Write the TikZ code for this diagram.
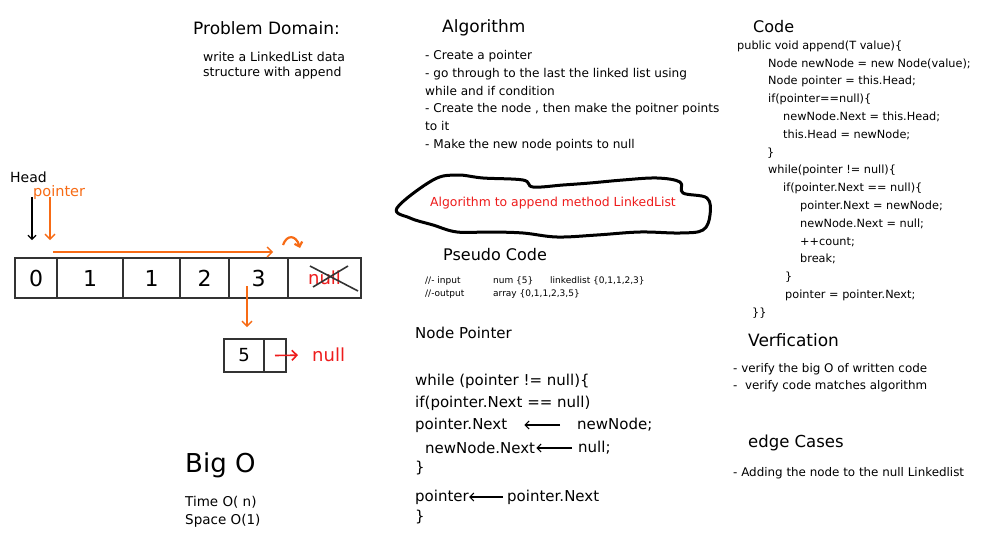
\documentclass[tikz,border=0pt]{standalone}
\usepackage{fontspec}
\setmainfont{DejaVu Sans}
\usetikzlibrary{positioning,arrows.meta}
\definecolor{pointerOrange}{HTML}{F76B15}
\definecolor{nullRed}{HTML}{EE1C1C}
\definecolor{boxGray}{HTML}{333333}

\begin{document}
\begin{tikzpicture}[x=1pt, y=-1pt,
    cell/.style={rectangle, draw=boxGray, line width=1.4pt, minimum height=40pt, inner sep=0pt, outer sep=0pt, font=\fontsize{22}{24}\selectfont},
    heading/.style={anchor=west, inner sep=0pt, font=\fontsize{17}{20}\selectfont},
    note/.style={anchor=north west, inner sep=0pt, align=left, font=\fontsize{11.3}{17.8}\selectfont},
    codeline/.style={anchor=west, inner sep=0pt, font=\fontsize{15}{18}\selectfont},
    codeArrow/.style={-{Straight Barb[length=4pt]}, line width=1.1pt},
    walkArrow/.style={-{Straight Barb[length=5pt]}, draw=pointerOrange, line width=1.4pt}
]
    \fill[white] (0,0) rectangle (1002,554);
    \useasboundingbox (0,0) rectangle (1002,554);

    % linked list
    \node[cell, minimum width=42pt] (c0) at (36,278) {0};
    \node[cell, minimum width=66pt, right=0pt of c0] (c1) {1};
    \node[cell, minimum width=57pt, right=0pt of c1] (c2) {1};
    \node[cell, minimum width=49pt, right=0pt of c2] (c3) {2};
    \node[cell, minimum width=59pt, right=0pt of c3] (c4) {3};
    \node[cell, minimum width=73pt, right=0pt of c4, text=nullRed, font=\fontsize{18}{20}\selectfont] (c5) {null};
    \draw[boxGray, line width=1.6pt] (310,266) -- (358,291);
    \draw[boxGray, line width=1.6pt] (313,287) -- (348,266);

    \node[anchor=west, inner sep=0pt, font=\fontsize{14}{16}\selectfont] (head) at (10,177) {Head};
    \node[anchor=west, inner sep=0pt, font=\fontsize{14.5}{16}\selectfont, text=pointerOrange] (pointer) at (33,192) {pointer};
    \coordinate (headTail) at (32,197);
    \coordinate (headTip) at (32,240);
    \coordinate (ptrTail) at (50,197);
    \coordinate (ptrTip) at (50,240);
    \coordinate (walkStart) at (53,252);
    \coordinate (walkEnd) at (273,252);
    \coordinate (dropStart) at (247,286);
    \coordinate (dropEnd) at (247,327);
    \draw[codeArrow] (headTail) -- (headTip);
    \draw[walkArrow] (ptrTail) -- (ptrTip);
    \draw[walkArrow] (walkStart) -- (walkEnd);
    \draw[walkArrow] (dropStart) -- (dropEnd);
    \draw[pointerOrange, line width=2.2pt, -{Straight Barb[length=4pt]}] (283,245) .. controls (287,234) and (296,235) .. (300,248);

    % new node
    \node[cell, minimum width=40pt, minimum height=33pt, font=\fontsize{18}{20}\selectfont] (n5) at (244,355.5) {5};
    \node[cell, minimum width=22pt, minimum height=33pt, right=0pt of n5] (nNext) {};
    \node[anchor=west, inner sep=0pt, font=\fontsize{18}{20}\selectfont, text=nullRed] (nullOut) at (312,355) {null};
    \draw[-{Straight Barb[length=5pt]}, draw=nullRed, line width=1.6pt, shorten >=14pt] (nNext.center) -- (nullOut.west);

    % problem domain
    \node[heading] (problem) at (193,28) {Problem Domain:};
    \node[note, font=\fontsize{12.5}{15}\selectfont] (problemText) at (203,52) {write a LinkedList data\\structure with append};

    % algorithm
    \node[heading] (algo) at (442,28) {Algorithm};
    \node[note, font=\fontsize{12.1}{17.8}\selectfont] (algoText) at (425,50.2) {- Create a pointer\\- go through to the last the linked list using\\while and if condition\\- Create the node , then make the poitner points\\to it\\- Make the new node points to null};

    % cloud
    \draw[line width=3pt, line join=round] plot[smooth cycle, tension=0.6] coordinates {(397,208) (433,180) (457,175) (483,178) (523,180) (533,187) (563,185) (590,183) (623,180) (657,178) (680,182) (683,193) (707,198) (710,215) (703,230) (680,233) (640,232) (597,235) (557,237) (523,233) (490,232) (457,232) (433,225) (410,218)};
    \node[inner sep=0pt, font=\fontsize{12.4}{14}\selectfont, text=nullRed] (cloudText) at (553,203) {Algorithm to append method LinkedList};

    % pseudo code
    \node[heading, font=\fontsize{16}{18}\selectfont] (pseudo) at (443,255) {Pseudo Code};
    \node[codeline, font=\fontsize{9}{11}\selectfont] (inLabel) at (425,281) {//- input};
    \node[codeline, font=\fontsize{9}{11}\selectfont] (inNum) at (493,281) {num \{5\}};
    \node[codeline, font=\fontsize{9}{11}\selectfont] (inList) at (550,281) {linkedlist \{0,1,1,2,3\}};
    \node[codeline, font=\fontsize{9}{11}\selectfont] (outLabel) at (425,294) {//-output};
    \node[codeline, font=\fontsize{9}{11}\selectfont] (outArray) at (493,294) {array \{0,1,1,2,3,5\}};

    % node pointer
    \node[heading, font=\fontsize{15}{18}\selectfont] (nodePtr) at (415,333) {Node Pointer};
    \node[codeline] (lWhile) at (415,381) {while (pointer != null)\{};
    \node[codeline] (lIf) at (415,403) {if(pointer.Next == null)};
    \node[codeline] (lPtrNext) at (415,425) {pointer.Next};
    \node[codeline] (rNewNode) at (577,425) {newNode;};
    \node[codeline] (lNewNext) at (425,448) {newNode.Next};
    \node[codeline] (rNull) at (578,448) {null;};
    \node[codeline] (lClose) at (415,468) {\}};
    \node[codeline] (lPtr) at (415,497) {pointer};
    \node[codeline] (rPtrNext) at (507,497) {pointer.Next};
    \node[codeline] (lEnd) at (415,517) {\}};
    \draw[codeArrow, shorten <=17pt, shorten >=17pt] (rNewNode.west) -- (lPtrNext.east);
    \draw[codeArrow, shorten <=6pt, shorten >=1pt] (rNull.west) -- (lNewNext.east);
    \draw[codeArrow, shorten <=4pt, shorten >=0pt] (rPtrNext.west) -- (lPtr.east);

    % code
    \node[heading, font=\fontsize{16}{18}\selectfont] (code) at (753,27) {Code};
    \node[note] (codeText) at (737,40.5) {public void append(T value)\{\\
        \hspace*{31pt}Node newNode = new Node(value);\\
        \hspace*{31pt}Node pointer = this.Head;\\
        \hspace*{31pt}if(pointer==null)\{\\
        \hspace*{46pt}newNode.Next = this.Head;\\
        \hspace*{46pt}this.Head = newNode;\\
        \hspace*{30pt}\}\\
        \hspace*{31pt}while(pointer != null)\{\\
        \hspace*{46pt}if(pointer.Next == null)\{\\
        \hspace*{63pt}pointer.Next = newNode;\\
        \hspace*{63pt}newNode.Next = null;\\
        \hspace*{63pt}++count;\\
        \hspace*{63pt}break;\\
        \hspace*{48pt}\}\\
        \hspace*{48pt}pointer = pointer.Next;\\
        \hspace*{15pt}\}\}};

    % verification and edge cases
    \node[heading] (verify) at (748,340) {Verfication};
    \node[note, font=\fontsize{11.9}{17}\selectfont] (verifyText) at (733,363.3) {- verify the big O of written code\\-\ \ verify code matches algorithm};
    \node[heading, font=\fontsize{16.5}{18}\selectfont] (edge) at (748,443) {edge Cases};
    \node[note, font=\fontsize{11.9}{17}\selectfont] (edgeText) at (733,467.3) {- Adding the node to the null Linkedlist};

    % big o
    \node[heading, font=\fontsize{26}{28}\selectfont] (bigO) at (185,465) {Big O};
    \node[note, font=\fontsize{13.5}{18}\selectfont] (bigOText) at (185,496.5) {Time O( n)\\Space O(1)};
\end{tikzpicture}
\end{document}
